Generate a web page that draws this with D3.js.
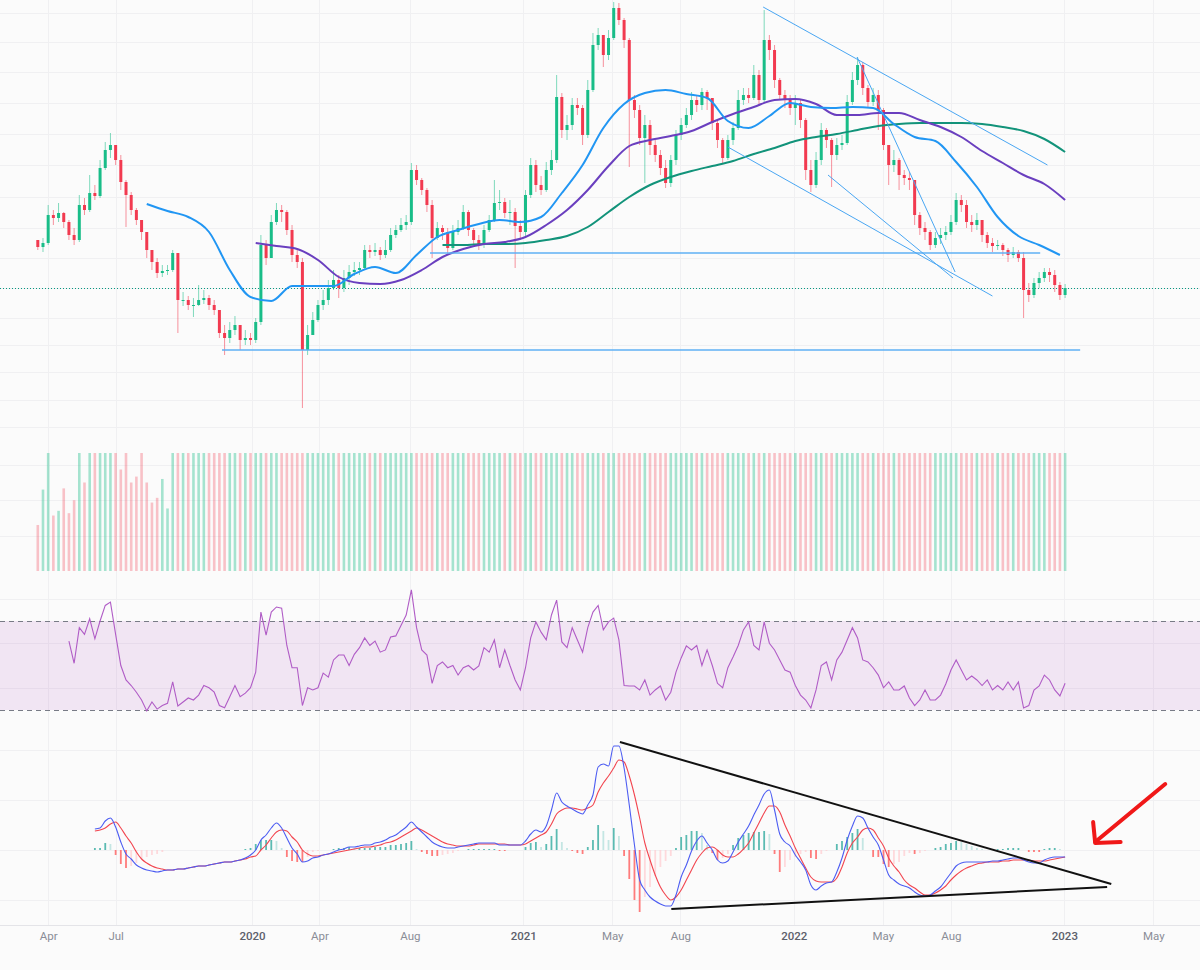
<!DOCTYPE html>
<html>
<head>
<meta charset="utf-8">
<script src="https://cdn.jsdelivr.net/npm/d3@7/dist/d3.min.js"></script>
<style>
  body { margin: 0; background: #fbfbfb; }
  svg { display: block; font-family: Roboto, "Noto Sans", sans-serif; }
</style>
</head>
<body>
<svg id="chart"></svg>
<script>
const width = 1200;
const height = 970;

// 周K线，从 2019-03-18 开始
const startDate = new Date(2019, 2, 18);
const firstOpen = 210;
const closes = [203,207,235,232,237,228,215,210,245,240,
  257,254,282,300,305,290,268,255,240,230,
  218,200,188,177,179,180,197,150,150,145,
  145,150,152,145,140,117,112,120,125,110,
  112,110,128,205,192,228,240,238,220,195,
  188,100,115,130,145,150,162,170,162,172,
  178,180,182,200,198,200,195,200,215,220,
  225,228,280,270,260,245,212,222,218,202,
  218,222,238,220,210,206,220,230,247,248,
  237,238,224,218,255,285,265,260,280,290,
  353,320,325,345,342,315,360,405,415,395,
  412,442,430,410,350,340,312,325,305,295,
  282,267,290,315,325,335,350,345,358,352,
  327,310,292,310,322,350,355,352,375,350,
  410,400,370,355,350,342,347,330,280,265,
  290,320,310,295,305,307,348,370,385,362,
  348,355,340,305,285,290,275,272,270,235,
  222,218,205,212,215,218,228,250,245,228,
  225,230,215,207,204,205,200,195,198,192,
  160,155,167,172,178,175,165,155,162];
const highs = [210,212,245,240,247,238,230,222,255,252,
  275,265,290,308,317,305,295,270,258,242,
  230,218,200,192,185,185,200,197,158,154,
  152,165,160,155,150,140,125,128,134,125,
  120,117,132,215,210,235,247,245,240,225,
  200,192,125,138,150,160,170,180,175,180,
  185,188,188,205,205,207,203,210,222,225,
  232,235,287,285,272,262,250,228,225,222,
  225,230,245,240,222,215,225,235,270,260,
  252,250,242,230,260,292,290,274,288,300,
  375,357,335,352,352,345,370,417,422,415,
  420,448,447,432,412,355,345,335,330,310,
  300,290,295,320,332,342,358,355,362,360,
  352,330,312,315,328,360,362,362,385,380,
  440,415,405,372,360,355,355,350,332,290,
  298,327,322,312,312,315,355,378,393,388,
  365,362,360,342,305,300,292,280,278,270,
  238,228,220,218,222,224,235,257,255,250,
  235,237,230,218,212,210,207,202,203,200,
  198,167,172,178,182,182,180,168,166];
const lows = [200,198,205,225,228,222,210,205,208,235,
  238,250,252,280,292,285,260,223,235,225,
  210,192,180,172,173,175,178,117,144,140,
  133,144,146,140,135,112,95,107,115,100,
  105,105,107,125,185,192,225,228,215,188,
  182,42,95,115,128,140,145,160,152,158,
  165,174,175,180,192,194,190,192,198,212,
  218,220,225,265,255,238,192,210,210,195,
  200,215,220,214,205,200,202,218,228,240,
  232,225,182,210,214,252,258,255,258,275,
  287,312,310,320,335,305,312,358,400,383,
  390,410,425,402,283,332,305,267,295,288,
  275,262,263,285,310,322,330,338,340,340,
  320,302,287,290,305,320,345,347,350,344,
  348,390,362,350,342,335,325,322,270,258,
  262,285,302,263,290,300,305,345,365,355,
  342,344,320,300,265,278,260,265,260,225,
  215,210,200,202,206,210,215,225,238,222,
  218,220,208,202,198,200,194,188,192,188,
  132,148,152,162,168,168,158,150,152];
const volumes = [39,69,130,47,51,70,49,60,140,75,
  120,110,160,150,130,125,86,105,75,80,
  110,75,58,62,78,53,
  180,240,150,210,320,190,170,230,160,200,
  260,140,190,220,170,310,250,180,150,200,
  230,170,160,210,190,280,240,150,170,200,
  190,260,220,180,230,170,210,160,190,240,
  300,280,260,220,250,330,290,240,210,260,
  230,270,210,190,240,260,220,200,190,230,
  210,250,200,180,220,240,210,190,200,230,
  250,210,190,220,260,240,200,210,230,190,
  260,300,240,230,250,280,230,210,200,240,
  220,260,240,210,230,250,220,190,200,210,
  230,250,220,200,190,210,240,260,210,200,
  220,230,250,260,240,210,200,230,250,270,
  280,260,240,220,250,270,230,220,240,260,
  250,230,220,240,260,250,230,210,220,200,
  210,220,230,250,240,220,210,200,190,210,
  220,240,230,210,200,190,210,220,230,240,
  300,260,240,220,210,200,190,220,230,210,
  200,220,240];

// 均线（每 4 根取一个值）
const maStep = 4;
const maBlueStart = 21;
const maBlue = [246,239,233,218,180,153,149,164,164,164,176,183,177,195,213,220,226,230,228,233,257,285,322,346,357,360,356,352,329,322,334,347,343,342,343,342,326,313,309,288,263,233,214,205,195];
const maPurpleStart = 42;
const maPurple = [207,204,201,190,173,167,166,170,180,193,201,206,208,213,225,240,260,284,304,310,314,319,328,336,343,350,351,346,335,335,337,337,330,323,313,299,287,275,266,250];
const maGreenStart = 78;
const maGreen = [205,205,206,206,207,210,214,223,238,253,265,273,279,284,289,296,302,309,313,316,320,324,326,327,327,327,326,323,319,311,298];

// RSI
const rsiStart = 6;
const rsi = [61,51,67,64,71,62,70,77,78.5,64,
  50,43.5,41,38,34.5,29.6,33.6,30.4,32,33,
  42.6,31.8,33.6,35.4,34.5,36.7,41,40,38,32,
  31,36,41,36,37.6,40,47,74,63.7,74,
  76.3,75.8,59,49,49,32,40,39,40,46.6,
  44.8,52.5,54.7,54.7,50,55,58,62.4,59,61,
  56,57,62.8,63.3,68,72.7,84,67,57,54.7,
  42,50,51.6,49,50,45.7,49,50,48,49.8,
  58,56,61.5,49,57,50,43.5,39,49,62.4,
  69.6,65,61.5,72.7,79.4,60.6,58,67,61.5,56,
  67,74,77,66,69.6,71.3,61.5,41,40.8,40.8,
  39,43.5,36.7,39,40.8,34.5,38,47,53.4,58.8,
  57,59,50,57,50,42,40,49,53.8,59,
  66,69.6,59,57,69.6,60,57,52.5,48,47,
  41,36.7,34.5,30.9,39,50,51.6,43.5,52.5,56,
  61.5,67,62.4,52.5,51.6,49,45.7,40,42.6,39,
  39,40.8,35.4,32,34.5,39,34.5,34.5,36.7,41.7,
  48,52.5,48,43.5,45.3,43.5,41,43.5,39,41,
  39,42.6,39,42.6,30.9,32,39,40.8,45.7,43.5,
  39,36.3,42];

// MACD 与信号线
const macdStart = 11;
const macd = [21,22,29,32,23,8,-4,-9,-15,-18,
  -20,-21,-22,-21,-20,-20,-19,-19,-18,-17,
  -16,-16,-15,-14,-13,-12,-12,-11,-10,-8,
  -5,0,10,15,22,27,22,12,2,-4,
  -12,-11,-8,-7,-5,-4,-2,0,1,3,
  3,4,5,5,7,8,10,13,15,19,
  23,28,23,18,13,8,5,3,2,2,
  3,4,5,6,7,7,7,7,5,5,
  5,5,5,9,16,20,18,24,40,57,
  48,44,41,38,36,45,55,83,86,84,
  104,104,82,45,5,-30,-40,-47,-51,-54,
  -56,-56,-45,-27,-15,-1,9,14,7,0,
  -10,-13,-11,-2,8,16,24,35,45,56,
  60,40,16,8,4,-5,-12,-20,-35,-40,
  -36,-33,-32,-22,-8,10,24,34,32,22,
  13,5,-10,-25,-30,-34,-36,-38,-42,-45,
  -46,-45,-41,-37,-30,-23,-16,-13,-12,-12,
  -12,-12,-12,-11,-11,-10,-9,-8,-8,-10,
  -12,-13,-13,-10,-8,-7,-7,-7];
const signal = [19,20,22,26,28,22,14,7,-2,-9,
  -13,-16,-18,-19,-20,-20,-19,-19,-18,-17,
  -16,-16,-15,-14,-13,-12,-12,-11,-10,-9,
  -7,-6,0,5,12,18,20,19,13,8,
  0,-4,-6,-6,-5,-4,-3,-2,-1,0,
  1,2,3,3,4,5,7,8,10,13,
  16,19,22,20,17,14,11,8,6,5,
  4,4,4,5,6,6,6,6,6,6,
  5,5,5,6,9,12,15,18,26,36,
  40,42,42,41,40,42,45,58,67,74,
  82,90,88,74,55,32,7,-10,-25,-37,
  -45,-50,-47,-40,-30,-20,-10,-3,2,3,
  0,-5,-7,-7,-4,1,7,17,27,37,
  44,44,38,25,14,2,-8,-18,-27,-31,
  -32,-32,-32,-28,-17,-3,7,13,20,22,
  20,12,4,-8,-16,-22,-30,-35,-38,-42,
  -45,-45,-43,-40,-36,-30,-25,-21,-18,-16,
  -14,-13,-12,-12,-12,-11,-11,-10,-10,-10,
  -10,-11,-11,-11,-10,-9,-8,-7];

// 画线（K线序号, 价格）
const priceLines = [
  [35.5, 100, 200.9, 100],
  [75.6, 197, 193.2, 197],
  [139.8, 443, 194.6, 285],
  [133.0, 303, 184.0, 154],
  [157.9, 393, 176.8, 178],
  [152.3, 275, 176.4, 172]
];
const macdLines = [
  [112.2, 108, 206.9, -34],
  [122.1, -59, 206.1, -37]
];
const arrowShaft = [[217.3, 66], [203.8, 8]];
const arrowHead = [[203.4, 28], [203.8, 7], [208.7, 8]];

// 时间轴刻度
const tickDates = [new Date(2019,3,1), new Date(2019,6,1), new Date(2020,0,1), new Date(2020,3,1),
  new Date(2020,7,1), new Date(2021,0,1), new Date(2021,4,1), new Date(2021,7,1),
  new Date(2022,0,1), new Date(2022,4,1), new Date(2022,7,1), new Date(2023,0,1), new Date(2023,4,1)];
const tickLabels = ["Apr","Jul","2020","Apr","Aug","2021","May","Aug","2022","May","Aug","2023","May"];

const priceGrid = [437,408,378,347,316,285,253,222,192,162,132,105,78,50,23];
const volGrid = [90, 60, 30];
const rsiGrid = [80, 60, 40];
const macdGrid = [100, 50, 0, -50];

const upColor = "#19bd88";
const downColor = "#f23a50";

const svg = d3.select("#chart")
    .attr("width", width)
    .attr("height", height);

svg.append("rect").attr("width", width).attr("height", height).attr("fill", "#fbfbfb");

// 比例尺
const xScale = d3.scaleTime()
    .domain([new Date(2019, 0, 26), new Date(2023, 6, 3)])
    .range([0, width]);
const dateAt = i => new Date(startDate.getTime() + i * 7 * 864e5);
const xAt = i => xScale(dateAt(i));

const yPrice = d3.scaleLinear().domain([10, 450]).range([440, 0]);
const yVol = d3.scaleLinear().domain([0, 100]).range([571, 453]);
const yRsi = d3.scaleLinear().domain([30, 70]).range([710, 621]);
const yMacd = d3.scaleLinear().domain([-50, 50]).range([900, 800]);

const defs = svg.append("defs");
defs.append("clipPath").attr("id", "clipPrice")
    .append("rect").attr("x", 0).attr("y", 0).attr("width", width).attr("height", 444);
defs.append("clipPath").attr("id", "clipVol")
    .append("rect").attr("x", 0).attr("y", 453).attr("width", width).attr("height", 120);

// 网格
const grid = svg.append("g").attr("stroke", "#f0f0f2").attr("stroke-width", 1);
grid.selectAll(".vgrid").data(tickDates).enter().append("line")
    .attr("x1", d => Math.round(xScale(d)) + 0.5).attr("x2", d => Math.round(xScale(d)) + 0.5)
    .attr("y1", 0).attr("y2", 925);
const hgrid = (vals, scale) => grid.append("g").selectAll("line").data(vals).enter().append("line")
    .attr("x1", 0).attr("x2", width)
    .attr("y1", d => Math.round(scale(d)) + 0.5).attr("y2", d => Math.round(scale(d)) + 0.5);
hgrid(priceGrid, yPrice);
hgrid(volGrid, yVol);
hgrid(rsiGrid, yRsi);
hgrid(macdGrid, yMacd);

// K线
const candles = closes.map((c, i) => ({
    i: i,
    open: i === 0 ? firstOpen : closes[i - 1],
    close: c,
    high: highs[i],
    low: lows[i],
    vol: volumes[i]
}));
const colorOf = d => d.close >= d.open ? upColor : downColor;

const priceG = svg.append("g").attr("clip-path", "url(#clipPrice)");

// 最新价虚线
priceG.append("line")
    .attr("x1", 0).attr("x2", width)
    .attr("y1", Math.round(yPrice(closes[closes.length - 1])) + 0.5)
    .attr("y2", Math.round(yPrice(closes[closes.length - 1])) + 0.5)
    .attr("stroke", "#089981").attr("stroke-dasharray", "1,2");

priceG.selectAll(".wick").data(candles).enter().append("line")
    .attr("class", "wick")
    .attr("x1", d => xAt(d.i)).attr("x2", d => xAt(d.i))
    .attr("y1", d => yPrice(d.high)).attr("y2", d => yPrice(d.low))
    .attr("stroke", colorOf).attr("stroke-opacity", 0.55).attr("stroke-width", 1);

priceG.selectAll(".body").data(candles).enter().append("rect")
    .attr("class", "body")
    .attr("x", d => xAt(d.i) - 1.5)
    .attr("width", 3)
    .attr("y", d => yPrice(Math.max(d.open, d.close)))
    .attr("height", d => Math.max(1, Math.abs(yPrice(d.open) - yPrice(d.close))))
    .attr("fill", colorOf);

// 均线
const maLine = start => d3.line()
    .x((d, k) => xAt(start + k * maStep))
    .y(d => yPrice(d))
    .curve(d3.curveMonotoneX);
[[maGreen, maGreenStart, "#12937a"], [maPurple, maPurpleStart, "#6a3fbf"], [maBlue, maBlueStart, "#2196f3"]]
    .forEach(([vals, start, color]) => {
        priceG.append("path")
            .datum(vals)
            .attr("d", maLine(start))
            .attr("fill", "none")
            .attr("stroke", color)
            .attr("stroke-width", 2);
    });

// 趋势线
priceG.selectAll(".tline").data(priceLines).enter().append("line")
    .attr("class", "tline")
    .attr("x1", d => xAt(d[0])).attr("y1", d => yPrice(d[1]))
    .attr("x2", d => xAt(d[2])).attr("y2", d => yPrice(d[3]))
    .attr("stroke", (d, i) => i < 2 ? "#5fb0f5" : "#49a6f2")
    .attr("stroke-width", (d, i) => i < 2 ? 1.6 : 1);

// 成交量
svg.append("g").attr("clip-path", "url(#clipVol)")
    .selectAll("rect").data(candles).enter().append("rect")
    .attr("x", d => xAt(d.i) - 1.3)
    .attr("width", 2.6)
    .attr("y", d => yVol(d.vol))
    .attr("height", d => yVol(0) - yVol(d.vol))
    .attr("fill", colorOf)
    .attr("fill-opacity", d => d.close >= d.open ? 0.38 : 0.3);

// RSI
const rsiG = svg.append("g");
rsiG.append("rect")
    .attr("x", 0).attr("width", width)
    .attr("y", yRsi(70)).attr("height", yRsi(30) - yRsi(70))
    .attr("fill", "#9c27b0").attr("fill-opacity", 0.1);
rsiG.selectAll(".band").data([70, 30]).enter().append("line")
    .attr("x1", 0).attr("x2", width)
    .attr("y1", d => Math.round(yRsi(d)) + 0.5).attr("y2", d => Math.round(yRsi(d)) + 0.5)
    .attr("stroke", "#787b86").attr("stroke-dasharray", "5,4");
rsiG.append("path")
    .datum(rsi)
    .attr("d", d3.line().x((d, k) => xAt(rsiStart + k)).y(d => yRsi(d)))
    .attr("fill", "none")
    .attr("stroke", "#b05cc6")
    .attr("stroke-width", 1.1);

// MACD
const macdG = svg.append("g");
const hist = macd.map((m, k) => m - signal[k]);
const histColor = (h, k) => {
    const prev = k > 0 ? hist[k - 1] : h;
    if (h >= 0) return h >= prev ? "#26a69a" : "#b2dfdb";
    return h <= prev ? "#ff5252" : "#ffcdd2";
};
macdG.selectAll(".hist").data(hist).enter().append("rect")
    .attr("x", (d, k) => xAt(macdStart + k) - 0.9)
    .attr("width", 1.8)
    .attr("y", d => yMacd(Math.max(0, d)))
    .attr("height", d => Math.abs(yMacd(d) - yMacd(0)))
    .attr("fill", histColor)
    .attr("fill-opacity", 0.75);
macdG.append("path")
    .datum(signal)
    .attr("d", d3.line().x((d, k) => xAt(macdStart + k)).y(d => yMacd(d)).curve(d3.curveMonotoneX))
    .attr("fill", "none").attr("stroke", "#f2454f").attr("stroke-width", 1.1);
macdG.append("path")
    .datum(macd)
    .attr("d", d3.line().x((d, k) => xAt(macdStart + k)).y(d => yMacd(d)).curve(d3.curveMonotoneX))
    .attr("fill", "none").attr("stroke", "#4c5cf2").attr("stroke-width", 1.1);

macdG.selectAll(".mline").data(macdLines).enter().append("line")
    .attr("x1", d => xAt(d[0])).attr("y1", d => yMacd(d[1]))
    .attr("x2", d => xAt(d[2])).attr("y2", d => yMacd(d[3]))
    .attr("stroke", "#111").attr("stroke-width", 2);

// 红色箭头
const arrowLine = d3.line().x(d => xAt(d[0])).y(d => yMacd(d[1]));
[arrowShaft, arrowHead].forEach(pts => {
    macdG.append("path")
        .attr("d", arrowLine(pts))
        .attr("fill", "none")
        .attr("stroke", "#f01818")
        .attr("stroke-width", 4)
        .attr("stroke-linecap", "round")
        .attr("stroke-linejoin", "round");
});

// 时间轴
svg.append("line")
    .attr("x1", 0).attr("x2", width).attr("y1", 925.5).attr("y2", 925.5)
    .attr("stroke", "#e4e4e8");
const xAxis = svg.append("g")
    .attr("transform", "translate(0,929)")
    .call(d3.axisBottom(xScale).tickValues(tickDates).tickSize(0).tickFormat((d, i) => tickLabels[i]));
xAxis.select(".domain").remove();
xAxis.selectAll("text")
    .attr("font-size", 11.5)
    .attr("font-family", "Roboto, sans-serif")
    .attr("fill", (d, i) => /^\d+$/.test(tickLabels[i]) ? "#5d606b" : "#8a8d97")
    .attr("font-weight", (d, i) => /^\d+$/.test(tickLabels[i]) ? 500 : 400);
</script>
</body>
</html>
